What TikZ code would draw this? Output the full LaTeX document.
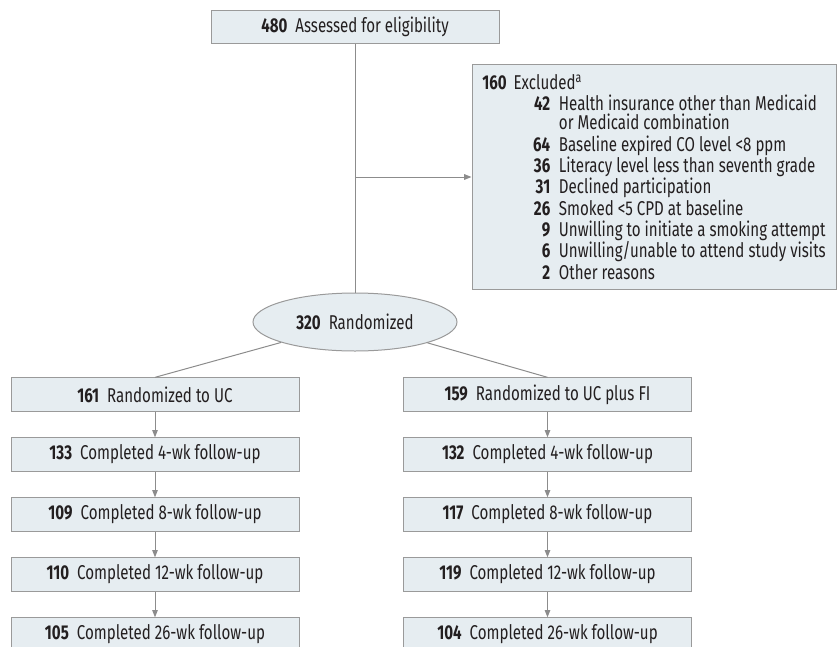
\documentclass[tikz,border=0pt]{standalone}
\usepackage{fontspec}
\setmainfont{Fira Sans}[FakeStretch=0.755]
\usetikzlibrary{shapes.geometric,arrows.meta}
\definecolor{boxfill}{HTML}{E6EDF1}
\definecolor{boxline}{HTML}{9A9A9A}
\definecolor{connc}{HTML}{8C8C8C}
\definecolor{txt}{HTML}{231F20}
\newlength\exnum \setlength\exnum{51pt}
\newlength\exgap \setlength\exgap{6.5pt}
\newlength\exind \setlength\exind{57.5pt}
\newcommand\exi[2]{\makebox[\exnum][r]{\textbf{#1}}\hspace{\exgap}#2}
\tikzset{
 stepbox/.style={draw=boxline, fill=boxfill, line width=0.75pt, minimum width=216pt, minimum height=25pt, inner sep=0pt, font=\fontsize{15}{16}\selectfont, text=txt},
 conn/.style={draw=connc, line width=0.75pt},
 arr/.style={conn, -{Triangle[length=5.5pt,width=4.2pt]}}
}
\begin{document}
\begin{tikzpicture}[x=0.75pt,y=-0.75pt]
\useasboundingbox (0,0) rectangle (838,646);
\clip (0,0) rectangle (838,646);
\node[stepbox] (assess) at (355,27) {\textbf{480}\hspace{0.4em}Assessed for eligibility};
\node[stepbox, minimum width=273pt, minimum height=168.75pt] (excl) at (654,176.5) {};
\node[anchor=north west, align=left, inner sep=0pt, text=txt, font=\fontsize{15}{16}\selectfont] (exlist) at (482,74) {%
\textbf{160}\hspace{0.35em}Excluded\textsuperscript{a}\\
\exi{42}{Health insurance other than Medicaid}\\[-1.5pt]
\hspace*{\exind}or Medicaid combination\\
\exi{64}{Baseline expired CO level <8 ppm}\\
\exi{36}{Literacy level less than seventh grade}\\
\exi{31}{Declined participation}\\
\exi{26}{Smoked <5 CPD at baseline}\\
\exi{9}{Unwilling to initiate a smoking attempt}\\
\exi{6}{Unwilling/unable to attend study visits}\\
\exi{2}{Other reasons}};
\node[stepbox, ellipse, minimum width=153pt, minimum height=43.5pt] (rand) at (355,322) {\textbf{320}\hspace{0.4em}Randomized};
\node[stepbox] (ucA) at (155,394.5) {\textbf{161}\hspace{0.4em}Randomized to UC};
\node[stepbox] (ucB) at (155,454.5) {\textbf{133}\hspace{0.4em}Completed 4-wk follow-up};
\node[stepbox] (ucC) at (155,514.5) {\textbf{109}\hspace{0.4em}Completed 8-wk follow-up};
\node[stepbox] (ucD) at (155,574.5) {\textbf{110}\hspace{0.4em}Completed 12-wk follow-up};
\node[stepbox] (ucE) at (155,634.5) {\textbf{105}\hspace{0.4em}Completed 26-wk follow-up};
\node[stepbox] (fiA) at (547.5,394.5) {\textbf{159}\hspace{0.4em}Randomized to UC plus FI};
\node[stepbox] (fiB) at (547.5,454.5) {\textbf{132}\hspace{0.4em}Completed 4-wk follow-up};
\node[stepbox] (fiC) at (547.5,514.5) {\textbf{117}\hspace{0.4em}Completed 8-wk follow-up};
\node[stepbox] (fiD) at (547.5,574.5) {\textbf{119}\hspace{0.4em}Completed 12-wk follow-up};
\node[stepbox] (fiE) at (547.5,634.5) {\textbf{104}\hspace{0.4em}Completed 26-wk follow-up};
\coordinate (split) at (355,177);
\draw[conn] (assess) -- (rand);
\draw[arr] (split) -- (excl.west |- split);
\draw[conn] (rand) -- (ucA.north);
\draw[conn] (rand) -- (fiA.north);
\draw[arr] (ucA) -- (ucB);
\draw[arr] (ucB) -- (ucC);
\draw[arr] (ucC) -- (ucD);
\draw[arr] (ucD) -- (ucE);
\draw[arr] (fiA) -- (fiB);
\draw[arr] (fiB) -- (fiC);
\draw[arr] (fiC) -- (fiD);
\draw[arr] (fiD) -- (fiE);
\end{tikzpicture}
\end{document}
